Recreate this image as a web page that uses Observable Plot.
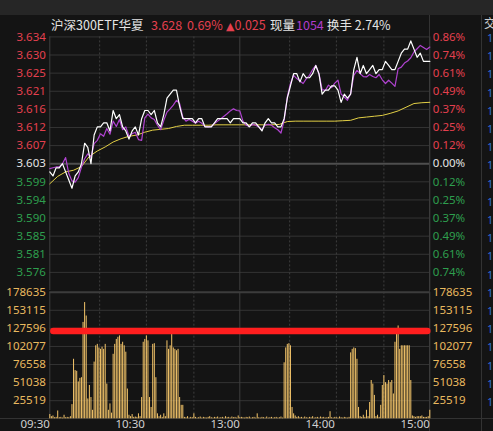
<!DOCTYPE html>
<html><head><meta charset="utf-8">
<script src="https://cdn.jsdelivr.net/npm/d3@7"></script>
<script src="https://cdn.jsdelivr.net/npm/@observablehq/plot@0.6"></script>
<style>
html,body{margin:0;padding:0;background:#141414;overflow:hidden}
#wrap{position:relative;width:493px;height:431px;background:#141414;overflow:hidden;font-family:"Noto Sans CJK SC","Noto Sans",sans-serif}
#wrap svg{position:absolute;left:0;top:0}
.hd{position:absolute;top:18px;font-size:12.5px;line-height:14px;white-space:nowrap}
.tri{font-family:"DejaVu Sans",sans-serif;font-size:11px}
.ln{position:absolute;background:#333}
.side{position:absolute;left:487px;font-size:11px;line-height:11px;color:#2f6fd6;font-family:"Noto Sans",sans-serif}
</style></head><body><div id="wrap"></div>
<script>
// ---- header ----
const title = "沪深300ETF华夏";
const lastPrice = "3.628", changePct = "0.69%", changeTri = "▲", changeAbs = "0.025";
const volNowLabel = "现量", volNow = "1054", turnoverLabel = "换手", turnover = "2.74%";

// ---- axes ----
const prevClose = 3.603;
const maxPct = 0.86;
const leftPriceLabels = ["3.634","3.630","3.625","3.621","3.616","3.612","3.607","3.603","3.599","3.594","3.590","3.585","3.581","3.576"];
const rightPctLabels = ["0.86%","0.74%","0.61%","0.49%","0.37%","0.25%","0.12%","0.00%","0.12%","0.25%","0.37%","0.49%","0.61%","0.74%"];
const volTickLabels = ["178635","153115","127596","102077","76558","51038","25519"];
const timeLabels = ["09:30","10:30","13:00","14:00","15:00"];
const timeLabelMinutes = [0,60,120,180,240];
const gridMinutes = [31.5,61,91,151.5,181,211];
const middayMinute = 120;

// ---- series ----
// last price, every 2 minutes (0..240)
const priceWhite = [
3.601,3.600,3.602,3.602,3.603,3.601,3.599,3.597,3.600,3.601,
3.603,3.608,3.607,3.603,3.610,3.612,3.612,3.613,3.613,3.611,
3.616,3.614,3.615,3.612,3.611,3.609,3.611,3.612,3.610,3.614,
3.616,3.616,3.615,3.616,3.613,3.612,3.615,3.619,3.620,3.621,
3.621,3.617,3.614,3.614,3.614,3.614,3.613,3.614,3.614,3.612,
3.612,3.612,3.613,3.614,3.614,3.614,3.614,3.613,3.614,3.614,
3.614,
3.613,3.613,3.612,3.613,3.613,3.612,3.611,3.613,3.614,3.613,
3.613,3.612,3.612,3.614,3.619,3.622,3.625,3.625,3.623,3.625,
3.624,3.624,3.625,3.627,3.625,3.620,3.621,3.621,3.622,3.622,
3.621,3.618,3.620,3.619,3.620,3.626,3.629,3.625,3.627,3.625,
3.626,3.627,3.625,3.626,3.626,3.628,3.627,3.626,3.626,3.628,
3.630,3.631,3.631,3.633,3.631,3.629,3.630,3.628,3.628,3.628];
// reference (purple) line, every 2 minutes
const priceRef = [
3.6018,3.6020,3.6022,3.6022,3.6030,3.6045,3.6006,3.5988,3.5985,3.5996,
3.6022,3.6042,3.6054,3.6046,3.6079,3.6087,3.6103,3.6097,3.6116,3.6102,
3.6134,3.6121,3.6138,3.6113,3.6120,3.6097,3.6103,3.6107,3.6089,3.6087,
3.6142,3.6151,3.6142,3.6138,3.6124,3.6113,3.6136,3.6156,3.6164,3.6173,
3.6185,3.6177,3.6144,3.6134,3.6138,3.6134,3.6129,3.6134,3.6129,3.6121,
3.6120,3.6121,3.6128,3.6134,3.6140,3.6146,3.6152,3.6159,3.6164,3.6160,
3.6159,
3.6134,3.6124,3.6121,3.6126,3.6124,3.6120,3.6113,3.6124,3.6126,3.6124,
3.6118,3.6113,3.6105,3.6136,3.6193,3.6226,3.6246,3.6238,3.6232,3.6226,
3.6238,3.6246,3.6260,3.6270,3.6250,3.6211,3.6209,3.6222,3.6216,3.6227,
3.6234,3.6200,3.6193,3.6185,3.6201,3.6246,3.6258,3.6250,3.6243,3.6242,
3.6248,3.6243,3.6240,3.6248,3.6235,3.6226,3.6234,3.6227,3.6219,3.6262,
3.6266,3.6276,3.6281,3.6289,3.6303,3.6311,3.6319,3.6314,3.6309,3.6315];
// average price, every 5 minutes
const avgPrice = [
3.5981,3.5999,3.6010,3.6014,3.6023,3.6048,3.6061,3.6071,3.6083,3.6091,
3.6097,3.6100,3.6107,3.6112,3.6114,3.6116,3.6121,3.6124,3.6124,3.6124,
3.6124,3.6125,3.6125,3.6125,3.6125,3.6125,3.6125,3.6125,3.6125,3.6126,
3.6133,3.6134,3.6134,3.6134,3.6134,3.6134,3.6134,3.6135,3.6136,3.6142,
3.6144,3.6146,3.6148,3.6153,3.6159,3.6168,3.6177,3.6179,3.6180];
// volume, every minute
const volume = [
6000,3000,4000,1500,2000,11000,1500,2000,1000,5000,1500,2000,1500,3000,20000,
84000,68000,67000,52000,57000,58000,136000,164000,145000,28000,47000,30000,12000,
80000,103000,105000,100000,98000,101000,98000,105000,49000,12000,21000,8000,
91000,105000,112000,115000,117000,105000,108000,103000,94000,42000,
5000,3000,6000,2000,2500,2000,7000,3000,
30000,108000,112000,117000,110000,30000,16000,105000,106000,58000,7000,3000,5000,2000,7000,3000,
110000,98000,103000,120000,100000,98000,96000,98000,30000,19000,19000,
2000,1500,3000,1000,2000,1500,7000,2000,1000,1500,2500,1000,2000,1500,1000,2000,3000,1500,
1000,2000,1500,2500,1000,1500,2000,1000,3000,1500,2000,1000,2500,1500,2000,1000,4000,1500,
2000,1500,1000,2000,1500,2500,1000,1500,2000,1000,7000,1500,1000,2000,1500,1000,2500,1000,
1500,2000,1000,1500,2000,1000,1500,2500,1000,
79000,100000,105000,106000,103000,16000,7000,4000,
2000,3000,1500,2000,1000,2500,1500,1000,2000,1500,3000,1000,1500,2000,1000,2500,1500,
2000,1000,1500,2000,10000,1500,1000,2000,1500,1000,2500,1500,1000,2000,1500,1000,2000,
93000,98000,100000,99000,84000,16000,3000,2000,5000,2000,12000,3000,23000,54000,49000,33000,
3000,5000,2000,19000,47000,61000,51000,49000,54000,51000,54000,35000,108000,119000,131000,98000,
103000,103000,103000,103000,103000,103000,54000,4000,3000,2000,3000,3000,3000,4000,2000,2000,
2000,3000,12000];
const redLevel = 124000;

// ---- colours ----
const RED = "#e4404f", GREEN = "#2e9f4e", WHITE = "#e4e4e4", VOLC = "#e9b95f";
const GRID = "#343434", VGRID = "#3e3e3e";

const wrap = document.getElementById("wrap");
function div(cls, css, txt) {
  const d = document.createElement("div");
  d.className = cls; d.style.cssText = css;
  if (txt != null) d.textContent = txt;
  wrap.appendChild(d); return d;
}
// chrome
div("ln", "left:0;top:0;width:493px;height:15px;background:#262626");
div("ln", "left:429px;top:15px;width:1px;height:416px");
div("ln", "left:481px;top:15px;width:1px;height:416px");
div("ln", "left:0;top:418px;width:493px;height:1px");
div("hd", "left:484px;top:16px;font-size:12px;line-height:13px;color:#cfcfcf", "交");
for (let k = 0; k < 21; k++) div("side", `top:${32 + k * 18.2}px`, "1");

// header
div("hd", `left:51px;color:${WHITE}`, title);
div("hd", `left:151px;color:${RED}`, lastPrice);
div("hd", `left:187px;color:${RED}`, changePct);
const ch = div("hd", `left:226px;color:${RED}`);
const tri = document.createElement("span"); tri.className = "tri"; tri.textContent = changeTri;
ch.appendChild(tri); ch.appendChild(document.createTextNode(changeAbs));
div("hd", `left:270px;color:${WHITE}`, volNowLabel);
div("hd", `left:296px;color:#b13ccb`, volNow);
div("hd", `left:327px;color:${WHITE}`, turnoverLabel + " " + turnover);

// derived tables
const levels = leftPriceLabels.map((lab, i) => {
  const k = 7 - i;
  const pct = k * maxPct / 7;
  return {k, price: prevClose * (1 + pct / 100), left: lab, right: rightPctLabels[i],
          color: k > 0 ? RED : k < 0 ? GREEN : WHITE};
});
const lo = prevClose * (1 - maxPct / 100), hi = prevClose * (1 + maxPct / 100);
const whiteData = priceWhite.map((p, i) => ({m: i * 2, p}));
const refData = priceRef.map((p, i) => ({m: i * 2, p}));
const avgData = avgPrice.map((p, i) => ({m: i * 5, p}));
const volData = volume.map((v, i) => ({m: i, v}));
const volTicks = volTickLabels.map(Number);
const timeData = timeLabels.map((label, i) => ({label, m: timeLabelMinutes[i]}));

const FONT = '"Noto Sans","DejaVu Sans",sans-serif';
const common = {
  width: 493, marginLeft: 49.3, marginRight: 63.7,
  x: {type: "linear", domain: [0, 240], axis: null},
  color: {type: "identity"},
  style: {background: "transparent", fontFamily: FONT, overflow: "visible"}
};

const pricePlot = Plot.plot({
  ...common, height: 292, marginTop: 36.4, marginBottom: 2,
  y: {domain: [lo, hi], axis: null},
  marks: [
    Plot.ruleY(levels.filter(d => d.k !== 0), {y: "price", stroke: GRID}),
    Plot.ruleY(levels.filter(d => d.k === 0), {y: "price", stroke: "#4e4e4e", strokeWidth: 2}),
    Plot.ruleX(gridMinutes, {stroke: VGRID, strokeDasharray: "2,2"}),
    Plot.ruleX([0, middayMinute, 240], {stroke: VGRID}),
    Plot.line(avgData, {x: "m", y: "p", stroke: "#e2cf45", strokeWidth: 1}),
    Plot.line(refData, {x: "m", y: "p", stroke: "#b043d0", strokeWidth: 1.2}),
    Plot.line(whiteData, {x: "m", y: "p", stroke: "#ffffff", strokeWidth: 1.2}),
    Plot.text(levels, {y: "price", text: "left", frameAnchor: "left", textAnchor: "end", dx: -4, fill: "color", fontSize: 11.5}),
    Plot.text(levels, {y: "price", text: "right", frameAnchor: "right", textAnchor: "start", dx: 3, fill: "color", fontSize: 11.5})
  ]
});

const volPlot = Plot.plot({
  ...common, height: 431, marginTop: 291.7, marginBottom: 12.7,
  y: {domain: [0, volTicks[0]], axis: null},
  marks: [
    Plot.ruleY(volTicks.slice(1), {stroke: GRID}),
    Plot.ruleY([volTicks[0]], {stroke: "#3c3c3c", strokeWidth: 2}),
    Plot.ruleX(gridMinutes, {stroke: VGRID, strokeDasharray: "2,2"}),
    Plot.ruleX([0, middayMinute, 240], {stroke: VGRID}),
    Plot.ruleX(volData, {x: "m", y1: 0, y2: "v", stroke: "#f4c56a", strokeWidth: 1}),
    Plot.ruleY([redLevel], {stroke: "#ff1e1e", strokeWidth: 6.5, strokeLinecap: "round", insetLeft: 4, insetRight: 2}),
    Plot.text(volTicks, {y: d => d, text: (d, i) => volTickLabels[i], frameAnchor: "left", textAnchor: "end", dx: -4, fill: VOLC, fontSize: 11.5}),
    Plot.text(volTicks, {y: d => d, text: (d, i) => volTickLabels[i], frameAnchor: "right", textAnchor: "start", dx: 3, fill: VOLC, fontSize: 11.5}),
    Plot.text(timeData, {x: "m", text: "label", frameAnchor: "bottom", lineAnchor: "top", textAnchor: "end", dy: 1.5, fill: "#d0d0d0", fontSize: 11.5})
  ]
});

wrap.appendChild(pricePlot);
wrap.appendChild(volPlot);
</script></body></html>
